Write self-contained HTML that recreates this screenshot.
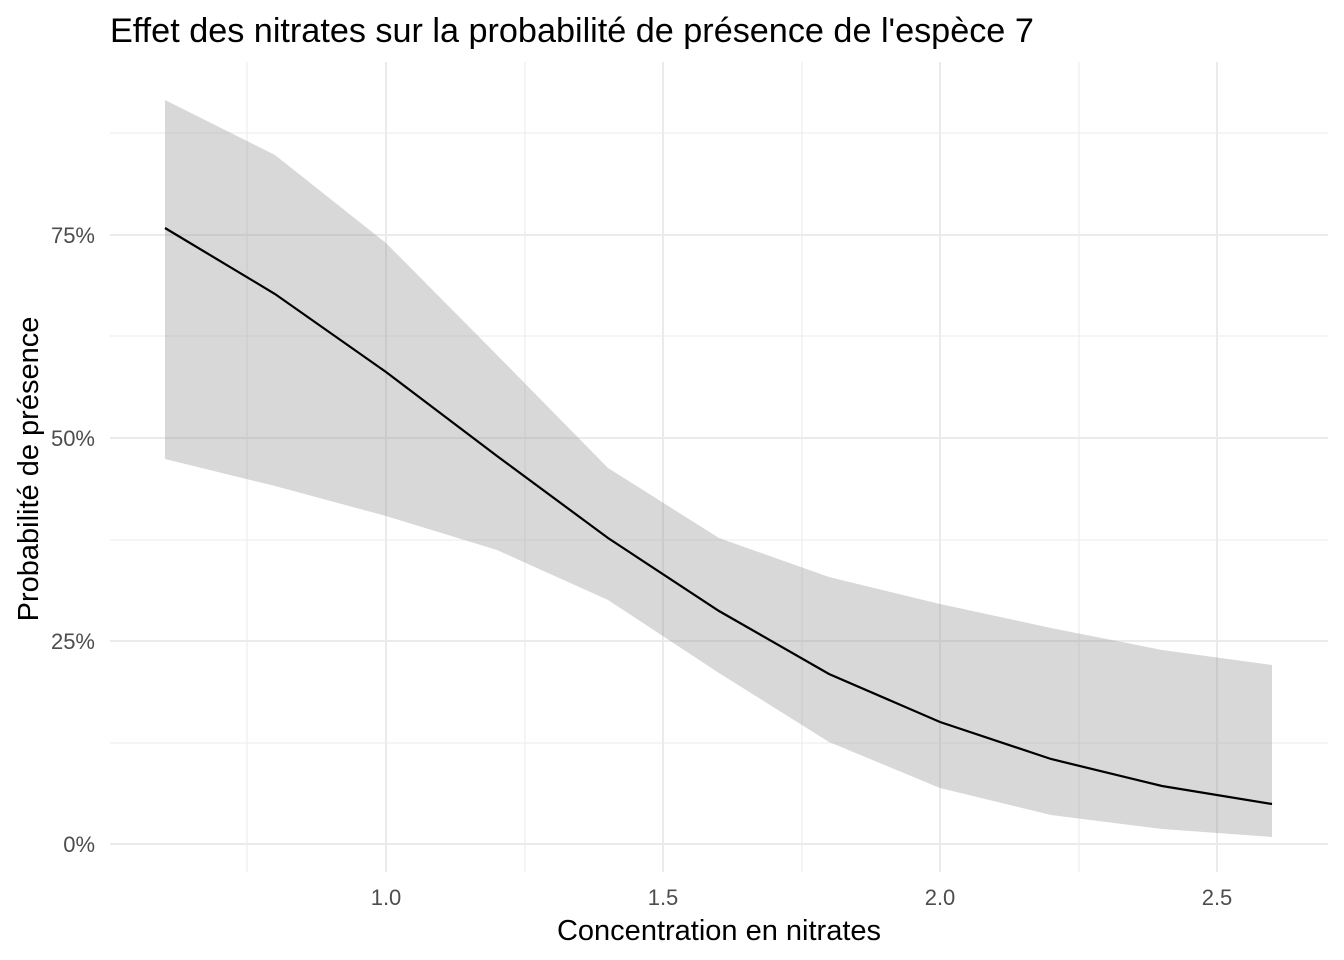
<!DOCTYPE html>
<html><head><meta charset="utf-8"><style>
html,body{margin:0;padding:0;background:#fff;}
svg{display:block;font-family:"Liberation Sans",Arial,sans-serif;}
</style></head><body>
<svg width="1344" height="960" viewBox="0 0 1344 960" xmlns="http://www.w3.org/2000/svg">
<rect width="1344" height="960" fill="#fff"/>
<g stroke="#ebebeb" stroke-width="1.1">
<line x1="110" x2="1328" y1="743" y2="743"/>
<line x1="110" x2="1328" y1="540" y2="540"/>
<line x1="110" x2="1328" y1="336" y2="336"/>
<line x1="110" x2="1328" y1="133" y2="133"/>
<line x1="247" x2="247" y1="62" y2="872"/>
<line x1="525" x2="525" y1="62" y2="872"/>
<line x1="802" x2="802" y1="62" y2="872"/>
<line x1="1079" x2="1079" y1="62" y2="872"/>
</g>
<g stroke="#ebebeb" stroke-width="2">
<line x1="110" x2="1328" y1="844" y2="844"/>
<line x1="110" x2="1328" y1="641" y2="641"/>
<line x1="110" x2="1328" y1="438" y2="438"/>
<line x1="110" x2="1328" y1="235" y2="235"/>
<line x1="386" x2="386" y1="62" y2="872"/>
<line x1="663" x2="663" y1="62" y2="872"/>
<line x1="940" x2="940" y1="62" y2="872"/>
<line x1="1217" x2="1217" y1="62" y2="872"/>
</g>
<polygon fill="#999" fill-opacity="0.38" points="165,100 275,155 386,243 497,355 608,468 719,538 829,577 940,604 1051,628 1162,650 1272,665 1272,837 1162,829 1051,815 940,788 829,742 719,673 608,600 497,550 386,516 275,486 165,459"/>
<polyline fill="none" stroke="#000" stroke-width="2.2" points="165,228 275,294 386,372 497,456 608,538 719,611 829,674 940,722 1051,759 1162,786 1272,804"/>
<g fill="#4d4d4d" font-size="22" text-anchor="end">
<text x="95" y="852">0%</text>
<text x="95" y="649">25%</text>
<text x="95" y="446">50%</text>
<text x="95" y="243">75%</text>
</g>
<g fill="#4d4d4d" font-size="22" text-anchor="middle">
<text x="386" y="905">1.0</text>
<text x="663" y="905">1.5</text>
<text x="940" y="905">2.0</text>
<text x="1217" y="905">2.5</text>
</g>
<text x="719" y="940" font-size="29" text-anchor="middle" fill="#000">Concentration en nitrates</text>
<text transform="translate(38,469) rotate(-90)" font-size="29" text-anchor="middle" fill="#000">Probabilité de présence</text>
<text x="110" y="42" font-size="34.2" fill="#000">Effet des nitrates sur la probabilité de présence de l'espèce 7</text>
</svg>
</body></html>
